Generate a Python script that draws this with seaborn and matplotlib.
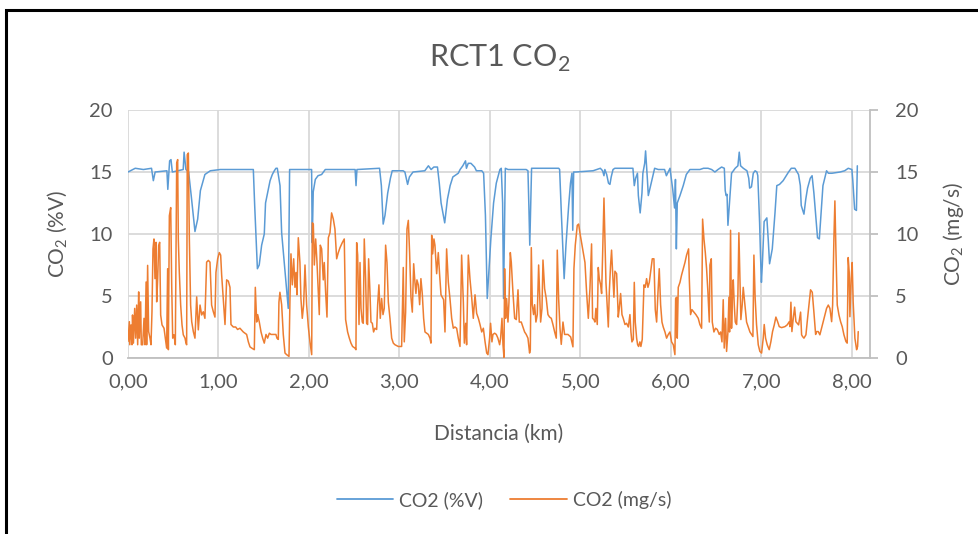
import matplotlib
matplotlib.use("Agg")
import matplotlib.pyplot as plt
from matplotlib.patches import Rectangle
from matplotlib.lines import Line2D
from matplotlib.ticker import FuncFormatter
import seaborn as sns

sns.set_theme(style="white")
plt.rcParams['font.family'] = ['Lato', 'DejaVu Sans']

# Distance (km) and CO2 (%V) - blue series
dist_pct = [0.00, 0.08, 0.17, 0.26, 0.28, 0.30, 0.43, 0.44, 0.46, 0.475, 0.49, 0.61, 0.62, 0.64,
            0.67, 0.70, 0.74, 0.77, 0.80, 0.85, 0.91, 1.02, 1.385, 1.40, 1.43, 1.45, 1.477, 1.506,
            1.52, 1.55, 1.57, 1.595, 1.617, 1.635, 1.65, 1.68, 1.698, 1.727, 1.753, 1.771, 1.786,
            2.029, 2.036, 2.047, 2.07, 2.10, 2.14, 2.18, 2.51, 2.52, 2.53, 2.78, 2.80, 2.82, 2.84,
            2.87, 2.90, 2.92, 3.04, 3.06, 3.09, 3.11, 3.15, 3.28, 3.30, 3.32, 3.35, 3.38, 3.42,
            3.44, 3.46, 3.50, 3.53, 3.56, 3.59, 3.65, 3.67, 3.70, 3.73, 3.74, 3.76, 3.79, 3.83,
            3.85, 3.91, 3.93, 3.95, 3.96, 3.97, 4.01, 4.04, 4.07, 4.11, 4.125, 4.14, 4.15, 4.17,
            4.20, 4.40, 4.42, 4.43, 4.44, 4.46, 4.60, 4.76, 4.77, 4.79, 4.82, 4.84, 4.87, 4.89,
            4.906, 4.915, 4.925, 4.95, 5.14, 5.22, 5.245, 5.26, 5.27, 5.29, 5.31, 5.326, 5.34,
            5.36, 5.38, 5.58, 5.595, 5.61, 5.63, 5.64, 5.66, 5.68, 5.69, 5.71, 5.72, 5.74, 5.75,
            5.775, 5.80, 5.82, 5.86, 5.90, 5.93, 5.95, 5.97, 5.99, 6.00, 6.02, 6.04, 6.05, 6.06,
            6.07, 6.10, 6.136, 6.17, 6.21, 6.32, 6.36, 6.41, 6.45, 6.486, 6.52, 6.56, 6.59, 6.60,
            6.61, 6.62, 6.63, 6.65, 6.67, 6.71, 6.74, 6.755, 6.77, 6.80, 6.84, 6.86, 6.87, 6.89,
            6.91, 6.93, 6.95, 6.96, 6.98, 6.99, 7.00, 7.01, 7.03, 7.06, 7.075, 7.09, 7.12, 7.15,
            7.17, 7.20, 7.24, 7.30, 7.33, 7.37, 7.41, 7.43, 7.44, 7.47, 7.49, 7.51, 7.54, 7.56,
            7.58, 7.60, 7.62, 7.64, 7.66, 7.68, 7.72, 7.74, 7.78, 7.87, 7.92, 7.96, 8.00, 8.01,
            8.03, 8.05, 8.06]
co2_pct = [15.0, 15.3, 15.2, 15.3, 14.3, 15.0, 15.1, 13.6, 15.9, 16.0, 15.0, 15.2, 16.6, 15.2,
           15.0, 13.0, 10.2, 11.2, 13.5, 14.8, 15.1, 15.2, 15.2, 12.3, 7.2, 7.5, 9.1, 10.0,
           12.5, 13.6, 14.3, 14.8, 15.1, 15.3, 15.3, 13.9, 10.1, 7.7, 5.6, 4.0, 15.2,
           15.2, 9.3, 13.4, 14.4, 14.7, 14.8, 15.2, 15.2, 13.9, 15.2, 15.3, 13.9, 10.8, 11.5,
           13.3, 14.5, 15.1, 15.1, 15.0, 14.0, 14.6, 15.0, 15.1, 15.3, 15.5, 15.2, 15.4, 15.4,
           14.1, 12.5, 10.9, 12.8, 13.9, 14.6, 14.9, 15.2, 15.5, 15.9, 15.3, 15.7, 15.7, 15.4,
           15.1, 15.1, 14.9, 11.5, 8.3, 4.8, 9.6, 12.5, 14.1, 15.2, 15.3, 12.5, 4.8, 15.3,
           15.2, 15.2, 15.1, 12.3, 9.1, 15.3, 15.3, 15.3, 15.2, 11.5, 6.4, 9.1, 12.3, 14.1,
           14.9, 10.3, 15.0, 15.0, 15.1, 15.3, 15.1, 14.7, 15.2, 14.8, 14.1, 14.0, 14.6,
           15.2, 15.3, 15.3, 13.9, 14.5, 14.9, 13.1, 11.7, 13.3, 14.9, 15.7, 16.7, 14.4, 13.1,
           13.9, 14.7, 15.3, 15.2, 15.2, 15.2, 14.7, 15.0, 15.3, 14.7, 13.6, 12.1, 14.4, 8.8,
           12.5, 13.1, 13.9, 14.8, 15.2, 15.2, 15.3, 15.3, 15.2, 15.0, 15.2, 15.4, 15.3, 13.5,
           13.1, 13.2, 10.7, 12.8, 14.9, 15.3, 15.5, 16.6, 15.5, 15.3, 15.1, 14.5, 13.7, 13.8,
           14.9, 15.1, 15.0, 14.7, 10.9, 8.3, 6.1, 7.5, 11.0, 11.3, 9.6, 7.6, 8.8, 11.7,
           13.9, 14.0, 14.3, 15.0, 15.3, 15.3, 14.8, 13.9, 12.3, 11.6, 12.8, 13.7, 14.5, 14.7,
           13.3, 11.5, 9.7, 9.6, 11.7, 13.9, 15.1, 14.9, 14.9, 15.0, 15.1, 15.3, 15.2, 14.3,
           12.0, 11.9, 15.5]

# Distance (km) and CO2 (mg/s) - orange series
dist_mgs = [0.00, 0.015, 0.02, 0.033, 0.044, 0.05, 0.06, 0.074, 0.085, 0.096, 0.107, 0.118, 0.125,
            0.14, 0.147, 0.162, 0.177, 0.188, 0.20, 0.206, 0.217, 0.228, 0.243, 0.254, 0.265,
            0.276, 0.287, 0.298, 0.31, 0.317, 0.328, 0.339, 0.35, 0.361, 0.376, 0.398, 0.413,
            0.427, 0.438, 0.446, 0.457, 0.472, 0.483, 0.494, 0.508, 0.523, 0.538, 0.549, 0.556,
            0.567, 0.582, 0.597, 0.611, 0.63, 0.641, 0.648, 0.655, 0.667, 0.678, 0.692, 0.704,
            0.722, 0.74, 0.759, 0.777, 0.796, 0.814, 0.832, 0.85, 0.869, 0.888, 0.906, 0.924,
            0.943, 0.961, 0.972, 0.991, 1.009, 1.024, 1.035, 1.053, 1.072, 1.09, 1.109, 1.127,
            1.138, 1.164, 1.19, 1.211, 1.237, 1.274, 1.311, 1.33, 1.348, 1.367, 1.396, 1.407,
            1.422, 1.433, 1.451, 1.47, 1.488, 1.506, 1.525, 1.543, 1.562, 1.58, 1.599, 1.617,
            1.635, 1.646, 1.661, 1.668, 1.679, 1.698, 1.716, 1.735, 1.753, 1.779, 1.79, 1.801,
            1.816, 1.831, 1.845, 1.856, 1.867, 1.882, 1.9, 1.911, 1.926, 1.941, 1.956, 1.974,
            1.993, 2.011, 2.03, 2.037, 2.048, 2.059, 2.074, 2.088, 2.103, 2.114, 2.125, 2.14,
            2.158, 2.169, 2.184, 2.199, 2.214, 2.232, 2.25, 2.269, 2.287, 2.306, 2.324, 2.343,
            2.368, 2.39, 2.405, 2.427, 2.446, 2.464, 2.482, 2.508, 2.519, 2.527, 2.538, 2.553,
            2.564, 2.575, 2.589, 2.6, 2.611, 2.626, 2.637, 2.648, 2.659, 2.674, 2.685, 2.7,
            2.714, 2.729, 2.748, 2.759, 2.773, 2.788, 2.803, 2.818, 2.832, 2.847, 2.862, 2.877,
            2.895, 2.914, 2.932, 2.95, 2.987, 3.024, 3.042, 3.053, 3.068, 3.083, 3.098, 3.112,
            3.127, 3.142, 3.157, 3.171, 3.182, 3.193, 3.208, 3.223, 3.237, 3.252, 3.267, 3.282,
            3.3, 3.319, 3.337, 3.348, 3.356, 3.367, 3.381, 3.392, 3.411, 3.429, 3.444, 3.459,
            3.473, 3.488, 3.503, 3.521, 3.54, 3.558, 3.577, 3.595, 3.613, 3.632, 3.65, 3.669,
            3.687, 3.706, 3.717, 3.732, 3.742, 3.761, 3.779, 3.798, 3.816, 3.835, 3.853, 3.872,
            3.89, 3.909, 3.927, 3.946, 3.964, 3.978, 3.996, 4.007, 4.022, 4.033, 4.052, 4.07,
            4.088, 4.107, 4.118, 4.133, 4.144, 4.155, 4.162, 4.173, 4.184, 4.199, 4.21, 4.225,
            4.236, 4.254, 4.273, 4.291, 4.31, 4.324, 4.346, 4.365, 4.383, 4.401, 4.42, 4.438,
            4.446, 4.457, 4.468, 4.482, 4.494, 4.508, 4.523, 4.538, 4.549, 4.56, 4.575, 4.586,
            4.604, 4.622, 4.641, 4.659, 4.678, 4.696, 4.715, 4.733, 4.744, 4.759, 4.774, 4.788,
            4.807, 4.825, 4.862, 4.892, 4.917, 4.928, 4.943, 4.965, 4.98, 4.994, 5.013, 5.031,
            5.05, 5.068, 5.087, 5.105, 5.123, 5.134, 5.149, 5.16, 5.171, 5.186, 5.197, 5.208,
            5.223, 5.234, 5.245, 5.26, 5.271, 5.282, 5.297, 5.308, 5.319, 5.333, 5.344, 5.355,
            5.37, 5.381, 5.4, 5.418, 5.429, 5.444, 5.459, 5.473, 5.492, 5.51, 5.529, 5.547,
            5.558, 5.569, 5.584, 5.595, 5.606, 5.621, 5.632, 5.643, 5.657, 5.668, 5.683, 5.702,
            5.716, 5.731, 5.746, 5.761, 5.775, 5.794, 5.812, 5.827, 5.842, 5.857, 5.871, 5.886,
            5.901, 5.915, 5.934, 5.952, 5.971, 5.989, 6.007, 6.026, 6.044, 6.052, 6.063, 6.07,
            6.081, 6.1, 6.118, 6.136, 6.155, 6.173, 6.195, 6.203, 6.217, 6.232, 6.254, 6.276,
            6.302, 6.32, 6.339, 6.35, 6.365, 6.38, 6.394, 6.409, 6.424, 6.431, 6.446, 6.457,
            6.475, 6.493, 6.512, 6.534, 6.549, 6.564, 6.578, 6.589, 6.604, 6.615, 6.63, 6.641,
            6.648, 6.659, 6.67, 6.681, 6.689, 6.7, 6.711, 6.726, 6.74, 6.751, 6.762, 6.773,
            6.788, 6.799, 6.817, 6.836, 6.854, 6.873, 6.891, 6.906, 6.917, 6.931, 6.946, 6.965,
            6.983, 7.002, 7.02, 7.031, 7.046, 7.064, 7.086, 7.105, 7.123, 7.142, 7.16, 7.179,
            7.197, 7.223, 7.26, 7.285, 7.308, 7.315, 7.326, 7.337, 7.352, 7.367, 7.381, 7.396,
            7.411, 7.433, 7.444, 7.455, 7.47, 7.492, 7.51, 7.529, 7.543, 7.562, 7.58, 7.599,
            7.61, 7.628, 7.646, 7.665, 7.683, 7.702, 7.72, 7.739, 7.757, 7.776, 7.787, 7.801,
            7.812, 7.823, 7.838, 7.857, 7.875, 7.893, 7.912, 7.934, 7.948, 7.959, 7.97, 7.978,
            7.992, 8.003, 8.014, 8.033, 8.052, 8.063, 8.07]
co2_mgs = [1.33, 2.93, 1.07, 2.67, 1.07, 3.47, 1.2, 4.0, 1.6, 4.27, 1.07, 5.33, 1.6,
           4.53, 1.07, 1.07, 3.2, 1.07, 6.13, 1.07, 7.47, 2.13, 1.6, 1.07, 3.73,
           8.8, 9.6, 6.4, 9.33, 4.53, 6.4, 9.07, 9.33, 3.47, 2.67, 2.4, 1.6,
           0.8, 7.2, 0.67, 11.47, 12.13, 5.87, 1.6, 1.87, 1.07, 15.73, 16.0, 9.6,
           6.93, 4.27, 2.67, 1.87, 1.6, 1.2, 1.07, 16.4, 16.53, 9.6, 4.27, 2.93,
           2.13, 1.6, 4.93, 2.27, 4.27, 3.47, 3.73, 3.2, 7.73, 7.87, 7.73, 4.27,
           3.73, 3.3, 6.9, 8.0, 8.5, 8.3, 6.7, 4.8, 2.7, 6.3, 6.2, 5.7,
           2.7, 2.5, 2.5, 2.3, 2.4, 2.1, 1.9, 1.3, 0.9, 0.8, 0.67, 5.7,
           2.9, 3.5, 2.9, 2.1, 1.6, 1.2, 1.9, 1.6, 2.0, 1.9, 1.9, 1.9,
           1.9, 1.6, 1.5, 4.5, 5.3, 4.3, 1.9, 0.4, 0.27, 0.13, 4.8, 8.4,
           5.9, 8.0, 5.7, 6.9, 5.1, 9.7, 7.7, 4.8, 3.2, 4.3, 7.5, 4.3,
           2.5, 1.3, 0.27, 10.9, 10.8, 7.5, 9.6, 7.8, 5.3, 3.5, 9.1, 8.8,
           6.3, 7.7, 5.3, 3.3, 9.7, 10.1, 11.7, 11.2, 10.4, 8.0, 8.5, 8.9,
           9.3, 9.6, 3.1, 2.1, 1.6, 1.2, 0.93, 0.8, 0.67, 9.3, 8.3, 2.7,
           7.7, 4.0, 2.9, 2.8, 9.6, 6.4, 2.8, 2.7, 8.0, 5.3, 2.9, 2.8,
           2.1, 2.4, 2.3, 4.3, 5.9, 3.2, 4.8, 3.5, 4.0, 9.1, 7.7, 4.5,
           3.2, 1.6, 1.2, 1.07, 0.93, 0.93, 7.3, 1.3, 3.7, 10.4, 11.1, 8.5,
           4.9, 3.7, 7.6, 6.1, 5.2, 6.3, 5.9, 4.3, 6.4, 5.2, 3.2, 2.1,
           2.0, 1.9, 1.6, 1.2, 9.9, 8.4, 9.6, 9.1, 6.8, 8.5, 6.7, 5.1,
           4.9, 4.7, 2.1, 8.8, 6.1, 4.8, 3.2, 2.4, 2.5, 2.4, 1.6, 0.93,
           8.3, 4.5, 1.2, 2.8, 1.07, 8.3, 6.4, 4.9, 3.2, 5.1, 3.6, 3.2,
           2.7, 2.1, 2.4, 1.3, 0.4, 0.27, 1.6, 2.8, 1.3, 1.9, 2.0, 1.9,
           1.6, 1.07, 1.6, 3.2, 1.07, 0.05, 7.2, 3.2, 4.8, 2.9, 4.5, 8.5,
           7.7, 5.3, 3.2, 3.1, 5.5, 2.9, 2.9, 2.5, 2.1, 1.9, 1.6, 0.4,
           0.67, 8.9, 4.3, 3.5, 4.3, 2.9, 3.5, 7.5, 5.1, 2.9, 4.0, 7.9,
           5.6, 4.8, 3.5, 3.3, 3.2, 2.7, 2.1, 1.6, 8.7, 4.8, 2.4, 1.1,
           2.9, 1.9, 1.9, 1.7, 0.9, 7.2, 9.1, 10.7, 10.8, 10.1, 9.3, 8.5,
           7.7, 5.3, 3.2, 5.6, 9.2, 3.2, 3.1, 2.9, 4.0, 2.7, 7.3, 6.4,
           5.9, 5.2, 8.3, 12.9, 9.6, 6.1, 4.0, 2.5, 5.3, 7.5, 8.7, 7.0,
           4.9, 7.0, 6.8, 3.3, 4.0, 5.2, 3.5, 3.2, 2.7, 2.8, 2.5, 3.5,
           2.1, 1.3, 1.5, 6.1, 2.9, 1.6, 1.07, 0.93, 1.3, 0.93, 1.5, 5.9,
           5.7, 6.4, 5.7, 6.1, 6.9, 8.0, 8.0, 3.9, 2.9, 5.3, 7.2, 4.3,
           2.9, 2.5, 2.1, 1.6, 1.9, 2.1, 1.3, 1.07, 0.27, 4.8, 4.9, 1.6,
           5.7, 6.1, 6.7, 7.2, 7.7, 8.3, 8.8, 6.4, 3.5, 3.9, 3.7, 3.5,
           3.2, 2.7, 2.4, 11.2, 9.6, 8.5, 7.2, 5.3, 2.9, 7.5, 8.0, 2.9,
           2.1, 2.4, 2.3, 1.9, 2.1, 1.3, 4.7, 0.8, 3.2, 0.53, 2.1, 4.9,
           2.1, 10.3, 2.4, 5.3, 6.3, 4.3, 2.9, 2.7, 5.1, 10.1, 6.4, 3.1,
           4.3, 5.7, 4.3, 2.9, 2.5, 2.1, 1.9, 1.73, 8.3, 4.8, 2.7, 1.07,
           0.53, 0.4, 1.6, 2.7, 1.6, 1.07, 0.67, 1.33, 2.13, 2.67, 3.3, 2.93,
           2.53, 2.45, 2.53, 2.67, 2.93, 2.53, 4.5, 2.13, 3.2, 4.1, 2.93, 2.8,
           2.67, 3.7, 1.87, 1.73, 1.6, 1.87, 3.2, 4.5, 5.5, 5.3, 3.7, 1.9,
           2.13, 2.13, 1.87, 2.4, 2.93, 3.47, 4.0, 4.27, 4.0, 2.93, 4.27, 9.6,
           12.67, 8.8, 4.27, 3.47, 2.93, 2.53, 1.87, 1.33, 1.2, 8.1, 6.93, 3.33,
           6.4, 7.7, 4.53, 1.6, 0.67, 0.93, 2.13]

x_ticks = [0, 1, 2, 3, 4, 5, 6, 7, 8]
y_ticks = [0, 5, 10, 15, 20]

blue = '#5B9BD5'
orange = '#ED7D31'
txt = '#595959'
grid_c = '#D9D9D9'

fig = plt.figure(figsize=(9.79, 5.34), dpi=100)
ax = fig.add_axes([128 / 979, 1 - 358 / 534, (870 - 128) / 979, 248 / 534])
ax2 = ax.twinx()

sns.lineplot(x=dist_pct, y=co2_pct, ax=ax, color=blue, lw=1.1, estimator=None, sort=False)
sns.lineplot(x=dist_mgs, y=co2_mgs, ax=ax2, color=orange, lw=1.1, estimator=None, sort=False)

for a in (ax, ax2):
    a.set_xlim(0, 8.2)
    a.set_ylim(0, 20)
    a.set_yticks(y_ticks)
    a.set_facecolor('none')

ax.set_xticks(x_ticks)
ax.xaxis.set_major_formatter(FuncFormatter(lambda v, p: f"{v:.2f}".replace('.', ',')))
ax.grid(True, color=grid_c, lw=1.3)
ax.set_axisbelow(True)
ax2.grid(False)

for s in ('top', 'left', 'right'):
    ax.spines[s].set_visible(False)
ax.spines['bottom'].set_color('#BFBFBF')
ax.spines['bottom'].set_linewidth(1.3)
for s in ('top', 'left', 'bottom'):
    ax2.spines[s].set_visible(False)
ax2.spines['right'].set_color('#BFBFBF')
ax2.spines['right'].set_linewidth(1.3)

ax.tick_params(axis='both', length=0, labelsize=14.5, labelcolor=txt, pad=11)
ax2.tick_params(axis='y', length=6, width=1.3, color='#BFBFBF', direction='out',
                labelsize=14.5, labelcolor=txt, pad=12)

ax.set_xlabel('Distancia (km)', fontsize=15, color=txt, labelpad=24)
ax.set_ylabel(r'CO$_\mathregular{2}$ (%V)', fontsize=15, color=txt, labelpad=14)
ax2.set_ylabel(r'CO$_\mathregular{2}$ (mg/s)', fontsize=15, color=txt, labelpad=16)

fig.text(500 / 979, 1 - 58 / 534, r'RCT1 CO$_\mathregular{2}$', fontsize=22, color=txt,
         ha='center', va='center')

handles = [Line2D([], [], color=blue, lw=1.3), Line2D([], [], color=orange, lw=1.3)]
fig.legend(handles, ['CO2 (%V)', 'CO2 (mg/s)'], loc='center', bbox_to_anchor=(504 / 979, 1 - 500 / 534),
           ncol=2, frameon=False, fontsize=14, labelcolor=txt, handlelength=2.9,
           columnspacing=1.4, handletextpad=0.3)

# chart frame (partly cut by the image edge)
fig.patches.append(Rectangle((6 / 979, -0.2), 1.5, 1.2 - 10 / 534, transform=fig.transFigure,
                             fill=False, ec='black', lw=2.2))

fig.savefig('out.png', dpi=100, facecolor='white')
